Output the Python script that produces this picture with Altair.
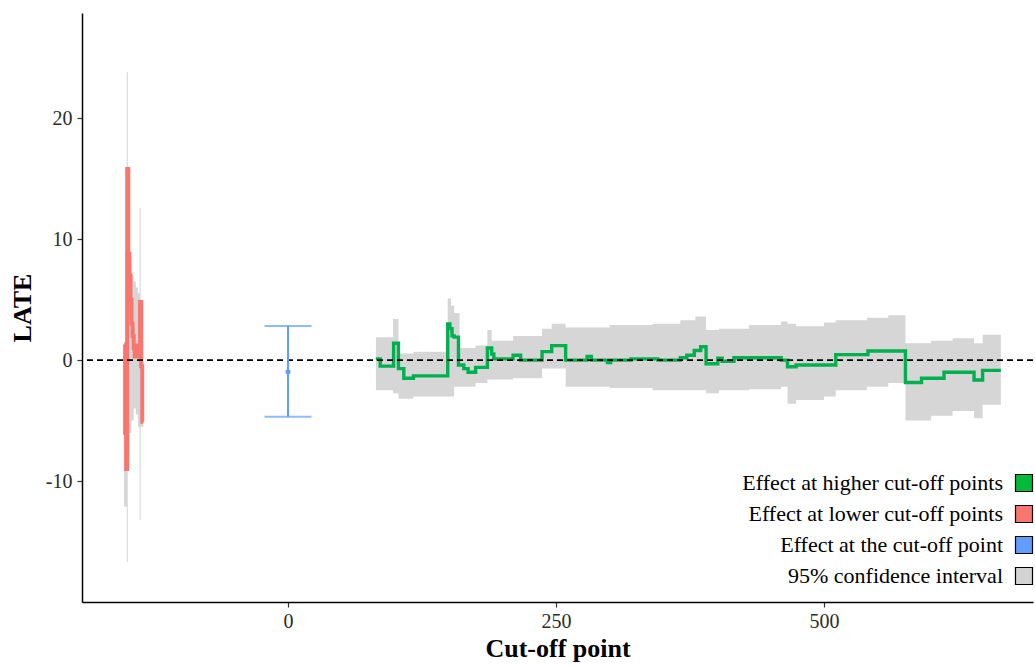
import altair as alt
import pandas as pd

# ---------------- data ----------------
# Effect at lower cut-off points (red), step series
low_x = [-152.5, -152, -151, -150, -149, -148, -147, -146, -145, -144, -143,
         -142, -141, -140, -139, -138, -137, -136, -135]
low_y = [1.3, -6.0, -9.0, 15.8, 8.8, 7.0, 5.0, 3.0, 2.0, 1.0, 0.3,
         1.2, 0.4, 1.0, 0.3, 4.8, -0.5, -5.1, -5.1]
# 95% CI around lower cut-off effects
low_ci_x = [-153, -152, -150.5, -149.5, -148, -146, -144, -142, -140, -138.5, -137.5, -136, -135]
low_ci_lo = [-12.1, -12.1, -16.7, -8.0, -6.0, -5.0, -4.0, -4.5, -5.5, -13.2, -5.5, -5.5, -5.5]
low_ci_hi = [1.5, 9.0, 23.8, 9.0, 8.0, 7.0, 6.5, 6.0, 5.5, 12.6, 5.0, 5.0, 5.0]

# Effect at higher cut-off points (green), step series
high_x = [82, 86, 98.5, 103, 108, 117, 149, 151, 153, 155, 159, 164, 168, 175, 186,
          190, 192, 210, 217, 237, 246, 259, 279, 283, 298, 301, 320, 345, 366, 372,
          379, 385, 390, 401, 405, 416, 460, 466, 474, 511, 541, 576, 591, 612, 640,
          648, 665]
high_y = [0.1, -0.5, 1.4, -0.7, -1.5, -1.3, 3.0, 2.6, 2.0, 1.9, -0.4, -0.7, -1.0, -0.6, 1.0,
          0.5, 0.1, 0.4, 0.0, 0.7, 1.2, 0.0, 0.3, 0.0, -0.2, 0.0, 0.1, 0.0, 0.2, 0.4,
          0.8, 1.1, -0.3, 0.15, -0.1, 0.2, 0.0, -0.55, -0.4, 0.45, 0.75, -1.85, -1.5, -1.0, -1.65,
          -0.85, -0.85]
# 95% CI around higher cut-off effects
high_ci_x = [82, 98, 103, 117, 149, 152, 155, 160, 175, 186, 190, 210, 237, 246, 259,
             300, 340, 366, 380, 390, 402, 430, 460, 466, 474, 500, 511, 540, 560, 576,
             600, 620, 640, 648, 665]
high_ci_lo = [-2.5, -2.75, -3.2, -3.0, -3.0, -3.0, -2.2, -2.2, -1.9, -1.6, -1.6, -1.5, -0.7, -0.7, -2.2,
              -2.3, -2.5, -2.5, -2.5, -2.75, -2.5, -2.4, -2.2, -3.6, -3.3, -3.0, -2.5, -2.2, -1.9, -5.0,
              -4.6, -4.2, -4.8, -3.7, -3.7]
high_ci_hi = [1.9, 3.4, 0.55, 0.7, 5.1, 4.5, 3.9, 1.0, 1.2, 2.5, 1.6, 2.0, 2.6, 3.0, 2.7,
              2.9, 3.0, 3.3, 3.6, 2.5, 2.6, 2.9, 3.2, 3.0, 2.8, 3.1, 3.3, 3.5, 3.7, 1.4,
              1.6, 1.8, 1.4, 2.1, 2.1]

# Effect at the cut-off point (blue) with its CI
cut_x = [0]
cut_est = [-0.97]
cut_lo = [-4.68]
cut_hi = [2.83]

legend_labels = ["Effect at higher cut-off points", "Effect at lower cut-off points",
                 "Effect at the cut-off point", "95% confidence interval"]
legend_colors = ["#00BA38", "#F8766D", "#619CFF", "#D3D3D3"]

x_ticks = [0, 250, 500]
y_ticks = [-10, 0, 10, 20]
X_DOMAIN = [-192.2, 695]
Y_DOMAIN = [-20, 28.7]

SERIF = "Liberation Serif"

# ---------------- tables ----------------
low_df = pd.DataFrame({"x": low_x, "y": low_y})
low_ci_df = pd.DataFrame({"x": low_ci_x, "lo": low_ci_lo, "hi": low_ci_hi})
high_df = pd.DataFrame({"x": high_x, "y": high_y})
high_ci_df = pd.DataFrame({"x": high_ci_x, "lo": high_ci_lo, "hi": high_ci_hi})
cut_df = pd.DataFrame({"x": cut_x, "est": cut_est, "lo": cut_lo, "hi": cut_hi})
legend_df = pd.DataFrame({"label": legend_labels, "x": [-1000] * 4, "y": [0] * 4})

xscale = alt.Scale(domain=X_DOMAIN, nice=False, zero=False)
yscale = alt.Scale(domain=Y_DOMAIN, nice=False, zero=False)

x_axis = alt.Axis(values=x_ticks, title="Cut-off point", grid=False,
                  domainColor="black", domainWidth=1.5, tickColor="#333",
                  tickWidth=1.2, tickSize=5, labelFont=SERIF, labelFontSize=20,
                  labelColor="#2b2b2b", labelPadding=4, titleFont=SERIF,
                  titleFontSize=26, titleFontWeight="bold", titleColor="black",
                  titlePadding=4)
y_axis = alt.Axis(values=y_ticks, title="LATE", grid=False,
                  domainColor="black", domainWidth=1.5, tickColor="#333",
                  tickWidth=1.2, tickSize=5, labelFont=SERIF, labelFontSize=20,
                  labelColor="#2b2b2b", labelPadding=5, titleFont=SERIF,
                  titleFontSize=26, titleFontWeight="bold", titleColor="black",
                  titlePadding=10,
                  labelExpr="datum.value < 0 ? '-' + abs(datum.value) : '' + datum.value")

X = lambda f: alt.X(f, type="quantitative", scale=xscale, axis=x_axis)
Y = lambda f: alt.Y(f, type="quantitative", scale=yscale, axis=y_axis)

low_ci = alt.Chart(low_ci_df).mark_area(interpolate="step-after", color="#D6D6D6", opacity=1).encode(
    x=X("x"), y=Y("lo"), y2="hi")
high_ci = alt.Chart(high_ci_df).mark_area(interpolate="step-after", color="#D6D6D6", opacity=1).encode(
    x=X("x"), y=Y("lo"), y2="hi")

low_line = alt.Chart(low_df).mark_line(interpolate="step-after", color="#F8766D", strokeWidth=4).encode(
    x=X("x"), y=Y("y"))
high_line = alt.Chart(high_df).mark_line(interpolate="step-after", color="#00B04F", strokeWidth=3.4).encode(
    x=X("x"), y=Y("y"))

zero = alt.Chart(cut_df).mark_rule(color="black", strokeWidth=1.8, strokeDash=[6, 4]).encode(
    y=alt.datum(0, scale=yscale))

cut_rule = alt.Chart(cut_df).mark_rule(color="#619CFF", strokeWidth=2).encode(
    x=X("x"), y=Y("lo"), y2="hi")
cap_lo = alt.Chart(cut_df).mark_tick(color="#619CFF", orient="horizontal", size=47, thickness=2).encode(
    x=X("x"), y=Y("lo"))
cap_hi = alt.Chart(cut_df).mark_tick(color="#619CFF", orient="horizontal", size=47, thickness=2).encode(
    x=X("x"), y=Y("hi"))
cut_pt = alt.Chart(cut_df).mark_circle(color="#619CFF", size=26, opacity=1).encode(
    x=X("x"), y=Y("est"))

legend_layer = alt.Chart(legend_df).mark_square(clip=True, filled=True, opacity=1).encode(
    x=X("x"), y=Y("y"),
    color=alt.Color("label:N", title=None,
                    scale=alt.Scale(domain=legend_labels, range=legend_colors),
                    sort=legend_labels,
                    legend=alt.Legend(orient="none", legendX=931, legendY=459,
                                      symbolType="square", symbolSize=289,
                                      symbolStrokeColor="black", symbolStrokeWidth=1.2,
                                      symbolOpacity=1, labelAlign="right",
                                      labelOffset={"expr": "-32"}, labelFont=SERIF,
                                      labelFontSize=22, labelColor="black",
                                      labelLimit=400, rowPadding=9, padding=0)))

chart = alt.layer(low_ci, high_ci, low_line, high_line, zero, cut_rule, cap_lo, cap_hi,
                  cut_pt, legend_layer).properties(
    width=951, height=589,
    autosize=alt.AutoSizeParams(type="none"),
    padding={"left": 82, "top": 13, "right": 2, "bottom": 64},
    background="white",
).configure_view(stroke=None)

chart.save("out.html", embed_options={"renderer": "svg", "actions": False})
